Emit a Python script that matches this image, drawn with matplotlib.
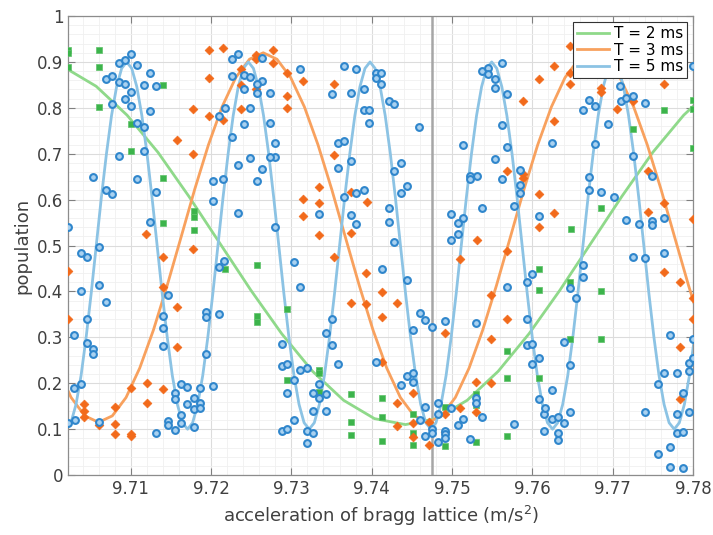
import matplotlib
matplotlib.use("Agg")
import matplotlib.pyplot as plt
from matplotlib.ticker import AutoMinorLocator

# measured populations, T = 2 ms
t2_x = [9.7022, 9.7022, 9.7022, 9.7061, 9.7061, 9.7061, 9.7140, 9.7100, 9.7100, 9.7140,
        9.7140, 9.7179, 9.7179, 9.7179, 9.7217, 9.7257, 9.7257, 9.7257, 9.7295, 9.7295,
        9.7334, 9.7334, 9.7334, 9.7374, 9.7374, 9.7374, 9.7413, 9.7413, 9.7413, 9.7452,
        9.7452, 9.7452, 9.7491, 9.7491, 9.7530, 9.7530, 9.7530, 9.7569, 9.7569, 9.7569,
        9.7608, 9.7609, 9.7608, 9.7647, 9.7647, 9.7686, 9.7686, 9.7648, 9.7685, 9.7726,
        9.7764, 9.7800, 9.7800, 9.7800]
t2_y = [0.926, 0.920, 0.888, 0.926, 0.890, 0.801, 0.850, 0.764, 0.707, 0.648,
        0.550, 0.576, 0.563, 0.534, 0.450, 0.458, 0.347, 0.333, 0.361, 0.207,
        0.230, 0.222, 0.182, 0.176, 0.116, 0.087, 0.169, 0.126, 0.074, 0.134,
        0.091, 0.065, 0.149, 0.063, 0.176, 0.153, 0.073, 0.270, 0.212, 0.085,
        0.403, 0.450, 0.211, 0.421, 0.296, 0.401, 0.296, 0.535, 0.581, 0.755,
        0.795, 0.818, 0.797, 0.713]

# measured populations, T = 3 ms
t3_x = [9.7198, 9.7198, 9.7198, 9.7215, 9.7178, 9.7158, 9.7178, 9.7119, 9.7178, 9.7215,
        9.7022, 9.7022, 9.7042, 9.7042, 9.7042, 9.7061, 9.7081, 9.7081, 9.7081, 9.7100,
        9.7100, 9.7100, 9.7120, 9.7120, 9.7140, 9.7140, 9.7140, 9.7158, 9.7158,
        9.7237, 9.7237, 9.7237, 9.7256, 9.7256, 9.7256, 9.7277, 9.7277, 9.7295, 9.7295,
        9.7295, 9.7315, 9.7353, 9.7353, 9.7334, 9.7315, 9.7334, 9.7315, 9.7334, 9.7374,
        9.7394, 9.7374, 9.7353, 9.7393, 9.7374, 9.7393, 9.7413, 9.7413, 9.7413,
        9.7608, 9.7589, 9.7569, 9.7589, 9.7589, 9.7608, 9.7608, 9.7531,
        9.7510, 9.7569, 9.7432, 9.7549, 9.7569, 9.7491, 9.7549, 9.7452, 9.7432, 9.7530,
        9.7549, 9.7510, 9.7530, 9.7491, 9.7452, 9.7432, 9.7452, 9.7472, 9.7472, 9.7491,
        9.7647, 9.7627, 9.7647, 9.7647, 9.7685, 9.7685, 9.7706, 9.7726, 9.7764, 9.7627,
        9.7627, 9.7744, 9.7764, 9.7744, 9.7800,
        9.7764, 9.7784, 9.7800, 9.7800, 9.7784, 9.7784]
t3_y = [0.926, 0.866, 0.782, 0.931, 0.797, 0.730, 0.699, 0.525, 0.492, 0.773,
        0.445, 0.340, 0.155, 0.140, 0.127, 0.109, 0.149, 0.111, 0.089, 0.089,
        0.085, 0.189, 0.200, 0.158, 0.187, 0.474, 0.410, 0.367, 0.280,
        0.884, 0.850, 0.797, 0.915, 0.906, 0.841, 0.926, 0.897, 0.877, 0.826,
        0.799, 0.858, 0.852, 0.697, 0.627, 0.601, 0.592, 0.565, 0.524, 0.617,
        0.595, 0.528, 0.474, 0.441, 0.374, 0.372, 0.399, 0.344, 0.247,
        0.863, 0.815, 0.662, 0.656, 0.648, 0.612, 0.540, 0.512,
        0.471, 0.489, 0.375, 0.392, 0.340, 0.309, 0.296, 0.178, 0.158, 0.202,
        0.201, 0.147, 0.138, 0.134, 0.113, 0.107, 0.083, 0.116, 0.065, 0.094,
        0.935, 0.892, 0.877, 0.853, 0.844, 0.835, 0.797, 0.815, 0.853, 0.772,
        0.571, 0.663, 0.592, 0.574, 0.557,
        0.443, 0.420, 0.385, 0.341, 0.280, 0.165]

# measured populations, T = 5 ms
t5_x = [9.7022, 9.7053, 9.7069, 9.7077, 9.7085, 9.7093, 9.7100, 9.7108, 9.7124, 9.7085,
        9.7093, 9.7100, 9.7093, 9.7077, 9.7100, 9.7117, 9.7132, 9.7124, 9.7108, 9.7117,
        9.7085, 9.7116, 9.7108, 9.7069, 9.7077, 9.7132, 9.7124, 9.7061, 9.7202, 9.7202,
        9.7210, 9.7217, 9.7215,
        9.7038, 9.7046, 9.7038, 9.7061, 9.7069, 9.7046, 9.7029, 9.7046, 9.7053, 9.7053,
        9.7038, 9.7029, 9.7022, 9.7031, 9.7061, 9.7140, 9.7140, 9.7140, 9.7147, 9.7155,
        9.7155, 9.7147, 9.7147, 9.7132, 9.7155, 9.7163, 9.7163, 9.7163, 9.7170, 9.7170,
        9.7179, 9.7179, 9.7179, 9.7186, 9.7186, 9.7186, 9.7194, 9.7194, 9.7194, 9.7202,
        9.7210, 9.7210, 9.7216,
        9.7226, 9.7233, 9.7226, 9.7241, 9.7249, 9.7241, 9.7264, 9.7264, 9.7257, 9.7257,
        9.7273, 9.7249, 9.7241, 9.7273, 9.7226, 9.7280, 9.7280, 9.7273, 9.7249, 9.7233,
        9.7264, 9.7257, 9.7233, 9.7280, 9.7311, 9.7335, 9.7351, 9.7358, 9.7366, 9.7358,
        9.7366, 9.7374, 9.7374, 9.7366, 9.7381, 9.7390, 9.7381, 9.7390, 9.7390, 9.7397,
        9.7397, 9.7374, 9.7381, 9.7405, 9.7405, 9.7412,
        9.7303, 9.7311, 9.7288, 9.7288, 9.7295, 9.7303, 9.7295, 9.7311, 9.7319, 9.7303,
        9.7288, 9.7295, 9.7319, 9.7327, 9.7319, 9.7327, 9.7327, 9.7335, 9.7335, 9.7343,
        9.7343, 9.7343, 9.7351, 9.7351, 9.7358, 9.7405, 9.7413,
        9.7412, 9.7421, 9.7428, 9.7459, 9.7436, 9.7428, 9.7444, 9.7436, 9.7421, 9.7421,
        9.7428, 9.7514, 9.7522, 9.7522, 9.7531, 9.7499, 9.7507, 9.7514, 9.7499, 9.7507,
        9.7538, 9.7545, 9.7545, 9.7562, 9.7554, 9.7554, 9.7569, 9.7562, 9.7569, 9.7554,
        9.7562, 9.7538, 9.7577, 9.7585, 9.7585, 9.7585, 9.7608,
        9.7444, 9.7460, 9.7467, 9.7475, 9.7452, 9.7491, 9.7444, 9.7452, 9.7452, 9.7436,
        9.7467, 9.7460, 9.7467, 9.7475, 9.7475, 9.7483, 9.7483, 9.7483, 9.7491, 9.7491,
        9.7491, 9.7499, 9.7507, 9.7514, 9.7522, 9.7530, 9.7530, 9.7538, 9.7530, 9.7569,
        9.7577, 9.7593, 9.7600, 9.7593, 9.7593, 9.7600, 9.7608, 9.7600, 9.7608, 9.7614,
        9.7614,
        9.7624, 9.7663, 9.7671, 9.7678, 9.7694, 9.7678, 9.7671, 9.7671, 9.7686, 9.7702,
        9.7709, 9.7710, 9.7717, 9.7726, 9.7740, 9.7725, 9.7749, 9.7717, 9.7733, 9.7749,
        9.7749, 9.7764, 9.7800,
        9.7663, 9.7663, 9.7647, 9.7654, 9.7639, 9.7647, 9.7624, 9.7616, 9.7624, 9.7632,
        9.7632, 9.7632, 9.7639, 9.7647, 9.7725, 9.7740, 9.7764, 9.7772, 9.7764, 9.7780,
        9.7756, 9.7795, 9.7795, 9.7800, 9.7800, 9.7788, 9.7795, 9.7780, 9.7740, 9.7780,
        9.7788, 9.7772, 9.7756, 9.7772, 9.7788]
t5_y = [0.540, 0.649, 0.862, 0.869, 0.897, 0.904, 0.917, 0.893, 0.875, 0.857,
        0.851, 0.834, 0.819, 0.808, 0.803, 0.850, 0.848, 0.794, 0.766, 0.759,
        0.695, 0.706, 0.645, 0.622, 0.612, 0.617, 0.551, 0.497, 0.641, 0.597,
        0.782, 0.799, 0.644,
        0.484, 0.476, 0.401, 0.414, 0.378, 0.341, 0.305, 0.288, 0.274, 0.263,
        0.198, 0.189, 0.114, 0.120, 0.116, 0.346, 0.320, 0.282, 0.392, 0.179,
        0.165, 0.118, 0.110, 0.091, 0.098, 0.114, 0.131, 0.198, 0.191, 0.155,
        0.169, 0.144, 0.105, 0.190, 0.158, 0.147, 0.264, 0.356, 0.344, 0.195,
        0.351, 0.453, 0.467,
        0.906, 0.917, 0.870, 0.871, 0.868, 0.841, 0.858, 0.909, 0.852, 0.833,
        0.833, 0.800, 0.764, 0.766, 0.736, 0.724, 0.694, 0.692, 0.691, 0.675,
        0.666, 0.641, 0.572, 0.541, 0.884, 0.569, 0.830, 0.724, 0.728, 0.670,
        0.892, 0.832, 0.684, 0.606, 0.614, 0.621, 0.885, 0.841, 0.795, 0.795,
        0.768, 0.566, 0.546, 0.877, 0.866, 0.877,
        0.465, 0.409, 0.285, 0.238, 0.241, 0.208, 0.178, 0.229, 0.234, 0.120,
        0.096, 0.100, 0.096, 0.092, 0.069, 0.178, 0.139, 0.198, 0.167, 0.176,
        0.140, 0.309, 0.340, 0.283, 0.243, 0.246, 0.448,
        0.852, 0.815, 0.808, 0.759, 0.679, 0.662, 0.630, 0.614, 0.582, 0.552,
        0.508, 0.720, 0.651, 0.644, 0.652, 0.569, 0.550, 0.559, 0.513, 0.525,
        0.880, 0.886, 0.874, 0.898, 0.862, 0.844, 0.830, 0.763, 0.715, 0.688,
        0.646, 0.581, 0.586, 0.664, 0.633, 0.614, 0.564,
        0.426, 0.354, 0.338, 0.323, 0.316, 0.336, 0.216, 0.222, 0.202, 0.196,
        0.149, 0.120, 0.086, 0.100, 0.092, 0.158, 0.132, 0.073, 0.097, 0.089,
        0.080, 0.147, 0.109, 0.123, 0.078, 0.167, 0.158, 0.126, 0.332, 0.409,
        0.111, 0.421, 0.437, 0.340, 0.283, 0.285, 0.254, 0.243, 0.165, 0.134,
        0.097,
        0.724, 0.795, 0.817, 0.804, 0.765, 0.721, 0.650, 0.622, 0.617, 0.606,
        0.848, 0.815, 0.821, 0.826, 0.810, 0.695, 0.652, 0.556, 0.548, 0.554,
        0.545, 0.559, 0.891,
        0.458, 0.432, 0.407, 0.386, 0.290, 0.240, 0.185, 0.147, 0.122, 0.127,
        0.092, 0.076, 0.114, 0.137, 0.474, 0.472, 0.484, 0.306, 0.223, 0.223,
        0.198, 0.245, 0.227, 0.296, 0.256, 0.179, 0.138, 0.134, 0.137, 0.092,
        0.094, 0.062, 0.046, 0.017, 0.015]

# fitted fringes, sampled along x
fit2_x = [9.70185, 9.70570, 9.70955, 9.71340, 9.71725, 9.72110, 9.72495, 9.72880,
          9.73265, 9.73650, 9.74035, 9.74420, 9.74805, 9.75190, 9.75575, 9.75960,
          9.76345, 9.76730, 9.77115, 9.77500, 9.77885, 9.78270]
fit2_y = [0.887, 0.847, 0.784, 0.703, 0.607, 0.505, 0.403, 0.308,
          0.226, 0.163, 0.123, 0.110, 0.123, 0.163, 0.226, 0.308,
          0.403, 0.505, 0.607, 0.703, 0.784, 0.847]

fit3_x = [9.70088, 9.70258, 9.70429, 9.70600, 9.70771, 9.70942, 9.71112, 9.71283,
          9.71454, 9.71625, 9.71796, 9.71967, 9.72137, 9.72308, 9.72479, 9.72650,
          9.72821, 9.72992, 9.73163, 9.73333, 9.73504, 9.73675, 9.73846, 9.74017,
          9.74188, 9.74358, 9.74529, 9.74700, 9.74871, 9.75042, 9.75213, 9.75383,
          9.75554, 9.75725, 9.75896, 9.76067, 9.76238, 9.76408, 9.76579, 9.76750,
          9.76921, 9.77092, 9.77263, 9.77433, 9.77604, 9.77775, 9.77946, 9.78117]
fit3_y = [0.233, 0.169, 0.129, 0.115, 0.129, 0.169, 0.233, 0.316,
          0.413, 0.517, 0.622, 0.719, 0.802, 0.866, 0.906, 0.920,
          0.906, 0.866, 0.802, 0.719, 0.622, 0.517, 0.413, 0.316,
          0.233, 0.169, 0.129, 0.115, 0.129, 0.169, 0.233, 0.316,
          0.413, 0.517, 0.622, 0.719, 0.802, 0.866, 0.906, 0.920,
          0.906, 0.866, 0.802, 0.719, 0.622, 0.517, 0.413, 0.316]

fit5_x = [9.70193, 9.70256, 9.70319, 9.70382, 9.70445, 9.70508, 9.70571, 9.70634,
          9.70698, 9.70761, 9.70824, 9.70887,
          9.70950, 9.71013, 9.71076, 9.71139, 9.71203, 9.71266, 9.71329, 9.71392,
          9.71455, 9.71518, 9.71581, 9.71644,
          9.71708, 9.71771, 9.71834, 9.71897, 9.71960, 9.72023, 9.72086, 9.72149,
          9.72213, 9.72276, 9.72339, 9.72402,
          9.72465, 9.72528, 9.72591, 9.72654, 9.72718, 9.72781, 9.72844, 9.72907,
          9.72970, 9.73033, 9.73096, 9.73159,
          9.73223, 9.73286, 9.73349, 9.73412, 9.73475, 9.73538, 9.73601, 9.73664,
          9.73728, 9.73791, 9.73854, 9.73917,
          9.73980, 9.74043, 9.74106, 9.74169, 9.74233, 9.74296, 9.74359, 9.74422,
          9.74485, 9.74548, 9.74611, 9.74674,
          9.74738, 9.74801, 9.74864, 9.74927, 9.74990, 9.75053, 9.75116, 9.75179,
          9.75243, 9.75306, 9.75369, 9.75432,
          9.75495, 9.75558, 9.75621, 9.75684, 9.75748, 9.75811, 9.75874, 9.75937,
          9.76000, 9.76063, 9.76126, 9.76189,
          9.76253, 9.76316, 9.76379, 9.76442, 9.76505, 9.76568, 9.76631, 9.76694,
          9.76758, 9.76821, 9.76884, 9.76947,
          9.77010, 9.77073, 9.77136, 9.77199, 9.77263, 9.77326, 9.77389, 9.77452,
          9.77515, 9.77578, 9.77641, 9.77704,
          9.77768, 9.77831, 9.77894, 9.77957, 9.78020]
fit5_y = [0.100, 0.114, 0.154, 0.217, 0.300, 0.396, 0.500, 0.604, 0.700, 0.783, 0.846, 0.886,
          0.900, 0.886, 0.846, 0.783, 0.700, 0.604, 0.500, 0.396, 0.300, 0.217, 0.154, 0.114,
          0.100, 0.114, 0.154, 0.217, 0.300, 0.396, 0.500, 0.604, 0.700, 0.783, 0.846, 0.886,
          0.900, 0.886, 0.846, 0.783, 0.700, 0.604, 0.500, 0.396, 0.300, 0.217, 0.154, 0.114,
          0.100, 0.114, 0.154, 0.217, 0.300, 0.396, 0.500, 0.604, 0.700, 0.783, 0.846, 0.886,
          0.900, 0.886, 0.846, 0.783, 0.700, 0.604, 0.500, 0.396, 0.300, 0.217, 0.154, 0.114,
          0.100, 0.114, 0.154, 0.217, 0.300, 0.396, 0.500, 0.604, 0.700, 0.783, 0.846, 0.886,
          0.900, 0.886, 0.846, 0.783, 0.700, 0.604, 0.500, 0.396, 0.300, 0.217, 0.154, 0.114,
          0.100, 0.114, 0.154, 0.217, 0.300, 0.396, 0.500, 0.604, 0.700, 0.783, 0.846, 0.886,
          0.900, 0.886, 0.846, 0.783, 0.700, 0.604, 0.500, 0.396, 0.300, 0.217, 0.154, 0.114,
          0.100, 0.114, 0.154, 0.217, 0.300]

g_center = 9.7475
x_ticks = [9.71, 9.72, 9.73, 9.74, 9.75, 9.76, 9.77, 9.78]
y_ticks = [0, 0.1, 0.2, 0.3, 0.4, 0.5, 0.6, 0.7, 0.8, 0.9, 1]
y_ticklabels = ['0', '0.1', '0.2', '0.3', '0.4', '0.5', '0.6', '0.7', '0.8', '0.9', '1']
legend_labels = ['T = 2 ms', 'T = 3 ms', 'T = 5 ms']

plt.rcParams['font.family'] = 'DejaVu Sans'

fig = plt.figure(figsize=(7.13, 5.35), dpi=100)
ax = fig.add_axes([0.0958, 0.112, 0.876, 0.858])

# reference line at local g
ax.axvline(g_center, color='#a6a6a6', lw=1.8, zorder=1)

# data
ax.scatter(t2_x, t2_y, marker='s', s=13, color='#3cb44b', edgecolors='#5ec26a',
           linewidths=0.5, zorder=3)
ax.scatter(t3_x, t3_y, marker='D', s=20, color='#f26a1b', edgecolors='#f26a1b',
           linewidths=0.5, zorder=3)
ax.scatter(t5_x, t5_y, marker='o', s=24, facecolors='#a9d1f0', edgecolors='#2f86cc',
           linewidths=1.5, zorder=4)

# fits
l2, = ax.plot(fit2_x, fit2_y, color='#8fd98a', lw=2, zorder=2)
l3, = ax.plot(fit3_x, fit3_y, color='#f8a15e', lw=2, zorder=2)
l5, = ax.plot(fit5_x, fit5_y, color='#8cc3e4', lw=2, zorder=2)

ax.set_xlim(9.70223, 9.78)
ax.set_ylim(0, 1)
ax.set_xticks(x_ticks)
ax.set_xticklabels([f'{t:.2f}' for t in x_ticks])
ax.set_yticks(y_ticks)
ax.set_yticklabels(y_ticklabels)
ax.xaxis.set_minor_locator(AutoMinorLocator(5))
ax.yaxis.set_minor_locator(AutoMinorLocator(5))

ax.grid(which='major', color='#dcdcdc', lw=0.8)
ax.grid(which='minor', color='#f0f0f0', lw=0.6)
ax.set_axisbelow(True)

ax.tick_params(which='both', direction='in', top=True, right=True,
               colors='#7f7f7f', labelcolor='#404040', labelsize=12)
ax.tick_params(which='major', length=5)
ax.tick_params(which='minor', length=0)
for sp in ax.spines.values():
    sp.set_color('#8c8c8c')
    sp.set_linewidth(0.9)

ax.set_xlabel('acceleration of bragg lattice (m/s$^2$)', fontsize=13, color='#404040')
ax.set_ylabel('population', fontsize=13, color='#404040')

leg = ax.legend([l2, l3, l5], legend_labels, loc='upper right', fontsize=11,
                frameon=True, fancybox=False, edgecolor='#333333', framealpha=1,
                handlelength=2.1, borderpad=0.25, labelspacing=0.1,
                handletextpad=0.3, borderaxespad=0.4)
leg.get_frame().set_linewidth(0.8)

fig.savefig('out.png', dpi=100)
